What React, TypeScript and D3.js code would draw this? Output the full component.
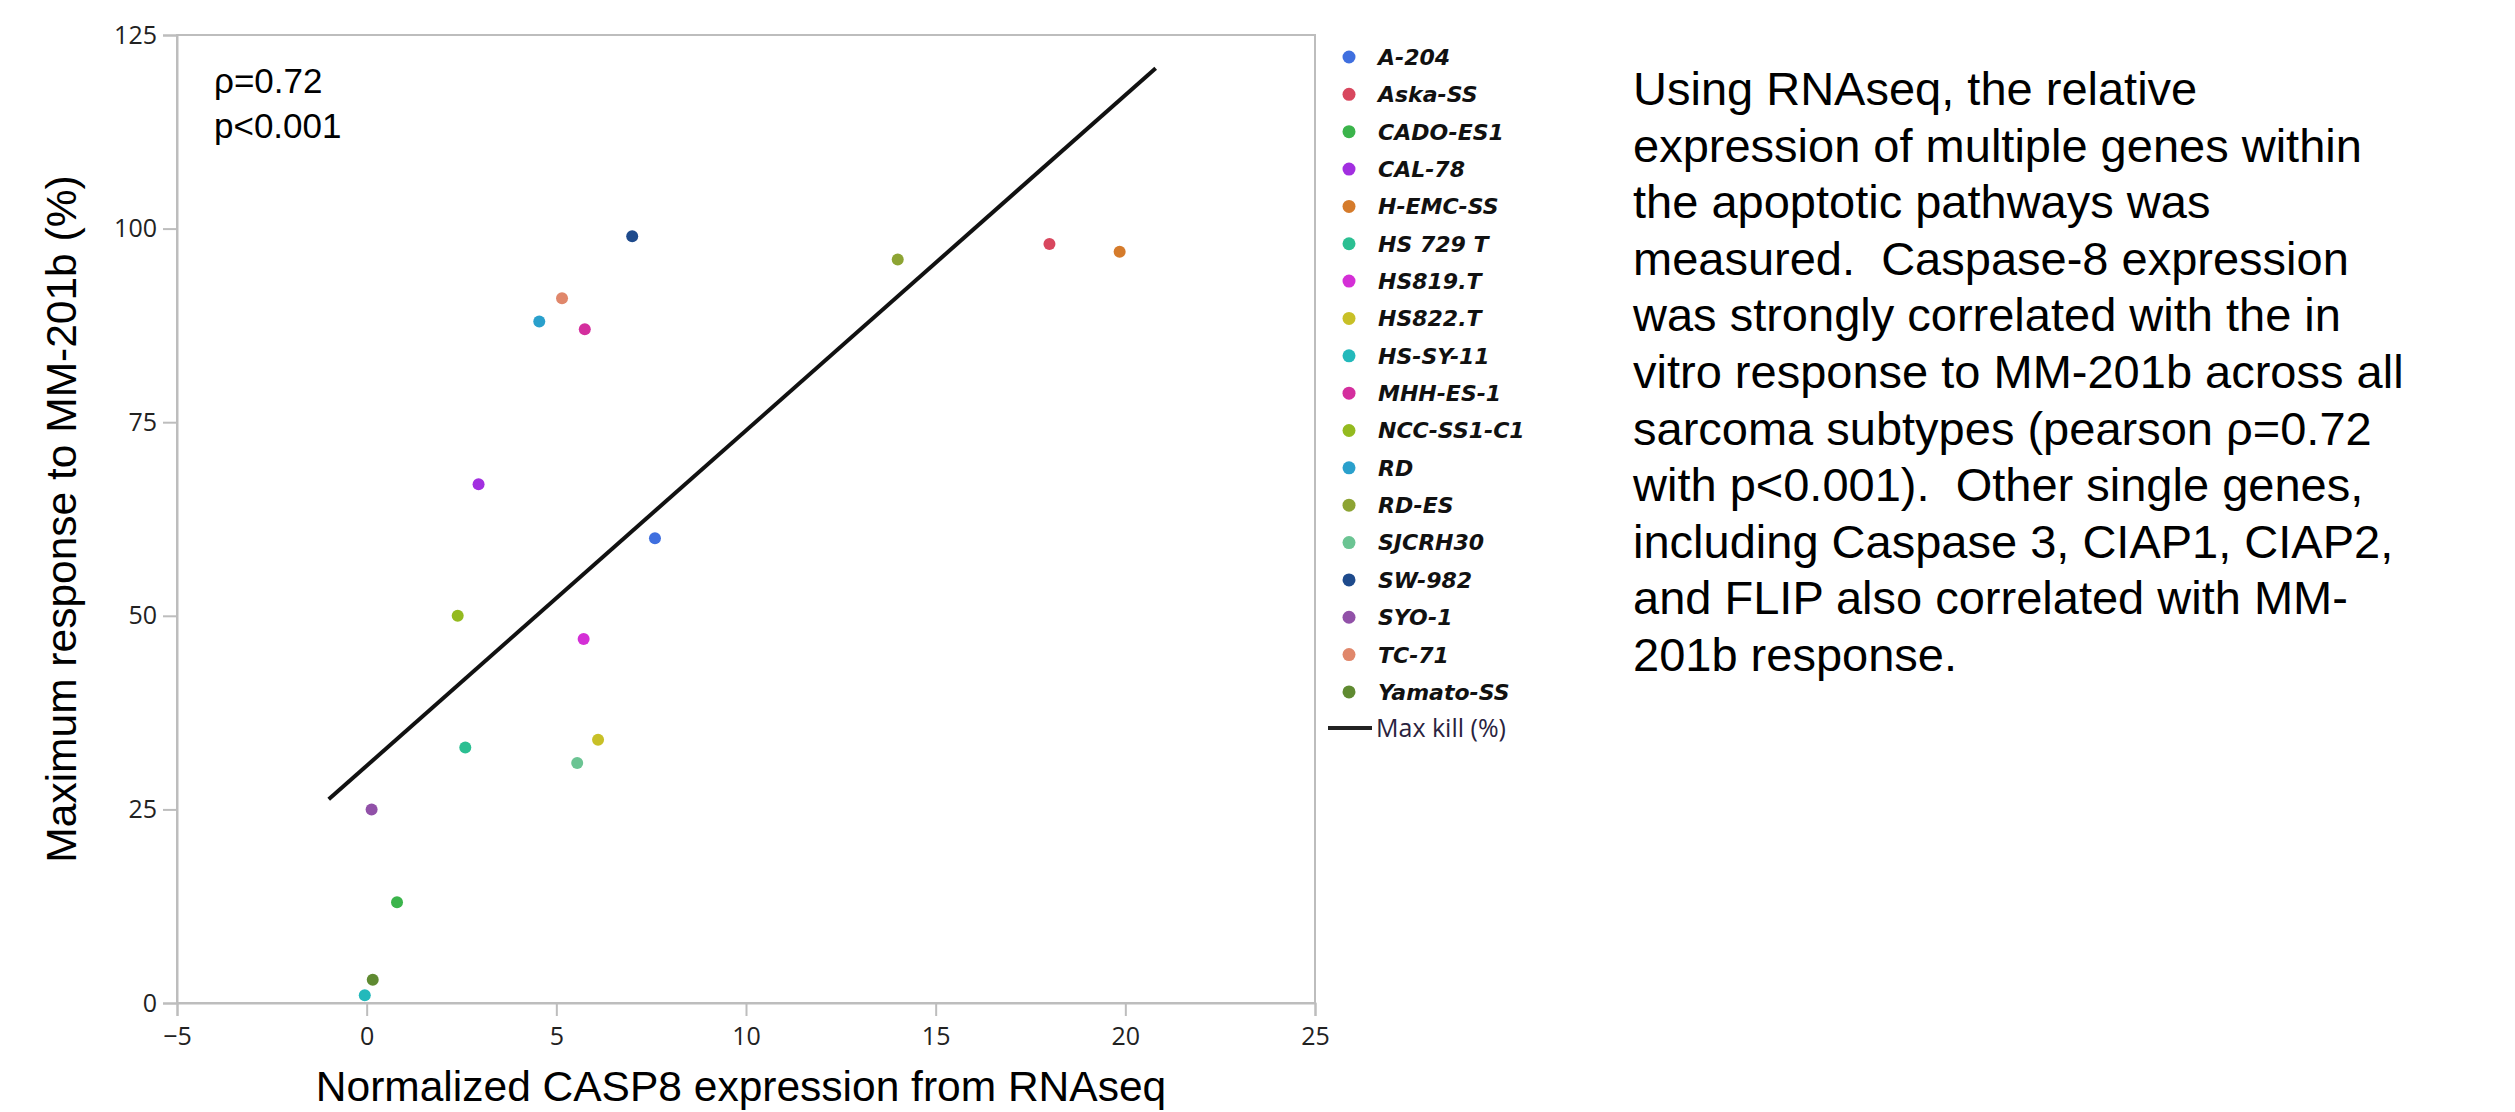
import React, { useRef, useEffect } from "react";
import * as d3 from "d3";

// cell lines, in legend order
const cellLines = [
  "A-204", "Aska-SS", "CADO-ES1", "CAL-78", "H-EMC-SS", "HS 729 T", "HS819.T",
  "HS822.T", "HS-SY-11", "MHH-ES-1", "NCC-SS1-C1", "RD", "RD-ES", "SJCRH30",
  "SW-982", "SYO-1", "TC-71", "Yamato-SS",
];
const casp8 = [7.6, 18.0, 0.8, 2.95, 19.85, 2.6, 5.72, 6.1, -0.05, 5.75, 2.4, 4.55, 14.0, 5.55, 7.0, 0.13, 5.15, 0.16];
const maxKill = [60, 98, 13, 67, 97, 33, 47, 34, 1, 87, 50, 88, 96, 31, 99, 25, 91, 3];
const pointColors = [
  "#3f6fdf", "#d8475e", "#3bb44b", "#a22fe0", "#d57b2b", "#2bbf92", "#d42fd6",
  "#c8c027", "#23b9bb", "#d42f9e", "#94ba1f", "#2aa0cc", "#8da433", "#6bc493",
  "#1e4a8c", "#9151a8", "#e0876b", "#5f8a31",
];

// fit line "Max kill (%)" end points
const fitX = [-1.0, 20.8];
const fitY = [26.3, 120.7];

const xTicks = [-5, 0, 5, 10, 15, 20, 25];
const yTicks = [0, 25, 50, 75, 100, 125];

const statLines = ["ρ=0.72", "p<0.001"];
const noteLines = [
  "Using RNAseq, the relative",
  "expression of multiple genes within",
  "the apoptotic pathways was",
  "measured.  Caspase-8 expression",
  "was strongly correlated with the in",
  "vitro response to MM-201b across all",
  "sarcoma subtypes (pearson ρ=0.72",
  "with p<0.001).  Other single genes,",
  "including Caspase 3, CIAP1, CIAP2,",
  "and FLIP also correlated with MM-",
  "201b response.",
];

const W = 2515;
const H = 1112;
const plot = { left: 177, right: 1315, top: 35, bottom: 1003 };
const axisGray = "#bdbdbd";
const tickFont = "'Open Sans', 'Noto Sans', sans-serif";
const arial = "'Liberation Sans', Arial, sans-serif";

export default function App() {
  const svgRef = useRef<SVGSVGElement>(null);

  useEffect(() => {
    const svg = d3.select(svgRef.current);
    svg.selectAll("*").remove();

    const x = d3.scaleLinear().domain([-5, 25]).range([plot.left, plot.right]);
    const y = d3.scaleLinear().domain([0, 125]).range([plot.bottom, plot.top]);

    // frame (top and right sides)
    svg.append("rect")
      .attr("x", plot.left).attr("y", plot.top)
      .attr("width", plot.right - plot.left).attr("height", plot.bottom - plot.top)
      .attr("fill", "none").attr("stroke", axisGray).attr("stroke-width", 2);

    const xAxis = svg.append("g")
      .attr("transform", `translate(0,${plot.bottom})`)
      .call(d3.axisBottom(x).tickValues(xTicks).tickSize(13).tickPadding(11).tickFormat(d3.format("d")));
    const yAxis = svg.append("g")
      .attr("transform", `translate(${plot.left},0)`)
      .call(d3.axisLeft(y).tickValues(yTicks).tickSize(14).tickPadding(6).tickFormat(d3.format("d")));

    [xAxis, yAxis].forEach(a => {
      a.select(".domain").attr("stroke", axisGray).attr("stroke-width", 2);
      a.selectAll(".tick line").attr("stroke", axisGray).attr("stroke-width", 2);
      a.selectAll(".tick text")
        .attr("fill", "#222")
        .style("font-family", tickFont)
        .style("font-size", "25px");
    });

    // fit line
    const line = d3.line<number>().x((d, i) => x(fitX[i])).y(d => y(d));
    svg.append("path")
      .datum(fitY)
      .attr("d", line)
      .attr("fill", "none")
      .attr("stroke", "#111")
      .attr("stroke-width", 4);

    // points
    svg.append("g")
      .selectAll("circle")
      .data(cellLines)
      .join("circle")
        .attr("cx", (d, i) => x(casp8[i]))
        .attr("cy", (d, i) => y(maxKill[i]))
        .attr("r", 6)
        .attr("fill", (d, i) => pointColors[i]);

    // stats
    svg.append("g")
      .selectAll("text")
      .data(statLines)
      .join("text")
        .attr("x", 214)
        .attr("y", (d, i) => 93 + i * 45)
        .style("font-family", arial)
        .style("font-size", "35px")
        .attr("fill", "#000")
        .text(d => d);

    // axis titles
    svg.append("text")
      .attr("x", (plot.left + plot.right) / 2 - 5)
      .attr("y", 1101)
      .attr("text-anchor", "middle")
      .style("font-family", arial)
      .style("font-size", "42.5px")
      .text("Normalized CASP8 expression from RNAseq");

    svg.append("text")
      .attr("transform", "translate(76,519) rotate(-90)")
      .attr("text-anchor", "middle")
      .style("font-family", arial)
      .style("font-size", "42.5px")
      .text("Maximum response to MM-201b (%)");

    // legend
    const legend = svg.append("g");
    const rowY = (i: number) => 57 + i * 37.35;
    legend.selectAll("circle")
      .data(cellLines)
      .join("circle")
        .attr("cx", 1349)
        .attr("cy", (d, i) => rowY(i))
        .attr("r", 6.5)
        .attr("fill", (d, i) => pointColors[i]);
    legend.selectAll("text.name")
      .data(cellLines)
      .join("text")
        .attr("class", "name")
        .attr("x", 1378)
        .attr("y", (d, i) => rowY(i))
        .attr("dy", "0.36em")
        .style("font-family", "'DejaVu Sans', Verdana, sans-serif")
        .style("font-size", "22px")
        .style("font-weight", "bold")
        .style("font-style", "italic")
        .attr("fill", "#111")
        .text(d => d);
    legend.append("line")
      .attr("x1", 1328).attr("x2", 1372)
      .attr("y1", 728).attr("y2", 728)
      .attr("stroke", "#222").attr("stroke-width", 4);
    legend.append("text")
      .attr("x", 1376)
      .attr("y", 728)
      .attr("dy", "0.36em")
      .style("font-family", tickFont)
      .style("font-size", "25px")
      .attr("fill", "#2a2340")
      .text("Max kill (%)");

    // note on the right
    svg.append("g")
      .selectAll("text")
      .data(noteLines)
      .join("text")
        .attr("x", 1633)
        .attr("y", (d, i) => 105 + i * 56.6)
        .attr("xml:space", "preserve")
        .style("white-space", "pre")
        .style("font-family", arial)
        .style("font-size", "47px")
        .attr("fill", "#000")
        .text(d => d);
  }, []);

  return (
    <svg
      ref={svgRef}
      width={W}
      height={H}
      style={{ position: "absolute", left: 0, top: 0, background: "#fff", display: "block" }}
    />
  );
}
